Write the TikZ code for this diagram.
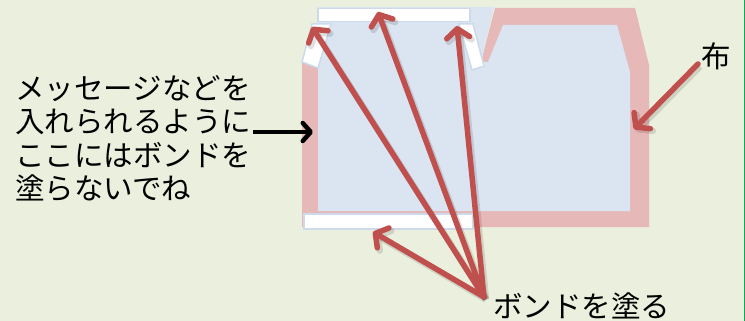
\documentclass[tikz,border=0pt]{standalone}
\usepackage{fontspec}
\newfontfamily\jp{Noto Sans CJK JP}
\usetikzlibrary{arrows.meta}
\definecolor{bgc}{HTML}{EBF0DE}
\definecolor{panelblue}{HTML}{DBE5F1}
\definecolor{edgeblue}{HTML}{CCDAEC}
\definecolor{fabric}{HTML}{E6B9B8}
\definecolor{bondred}{HTML}{C0504D}
\definecolor{framegreen}{HTML}{00B050}
\tikzset{
  jptext/.style={font=\jp\fontsize{29.5pt}{33.5pt}\selectfont, inner sep=0pt, text=black},
  bondstrip/.style={fill=white, draw=edgeblue, line width=1.5pt},
  redarrow/.style={draw=bondred, line width=5.5pt, line cap=round,
    -{Straight Barb[round,length=9pt,width=23pt]},
    preaction={draw=black, draw opacity=0.12, line width=6.5pt,
      transform canvas={shift={(2pt,-2.5pt)}}}},
  blackarrow/.style={draw=black, line width=4.5pt,
    -{Straight Barb[round,length=8pt,width=18pt]}}
}
\begin{document}
\begin{tikzpicture}[x=1pt, y=-1pt]
\useasboundingbox (0,0) rectangle (745,321);
\fill[bgc] (0,0) rectangle (745,321);
\draw[framegreen, line width=1pt] (744.5,0) -- (744.5,321);
% fabric outline
\fill[fabric] (302,62) -- (302,227) -- (649,227) -- (649,65) -- (635,8) -- (495,8) -- (481,62) -- cycle;
% panels
\fill[panelblue] (317,7) -- (494,7) -- (481,62) -- (488,62) -- (503,25) -- (617,25) -- (630,72) -- (630,211) -- (318,211) -- (318,62) -- (317,62) -- cycle;
% bond strips (white)
\draw[bondstrip] (318,8.5) rectangle (470,21.5);
\draw[bondstrip] (312,24) -- (331,24) -- (318,68) -- (302,62) -- cycle;
\draw[bondstrip] (459,24) -- (473,24) -- (484,66) -- (472,70) -- cycle;
\draw[bondstrip] (304,214) rectangle (473,229);
% texts
\node[jptext, anchor=base west, align=left] (msg) at (15,199.5)
  {メッセージなどを\\入れられるように\\ここにはボンドを\\塗らないでね};
\node[jptext, anchor=base west] (bond) at (493,317) {ボンドを塗る};
\node[jptext, anchor=base west] (cloth) at (701,67) {布};
% connector ends
\coordinate (src) at (484,297);
\coordinate (tA) at (312,27);
\coordinate (tB) at (378,12);
\coordinate (tC) at (457,26);
\coordinate (tD) at (373,232);
\coordinate (clothfrom) at (698,64);
\coordinate (clothto) at (634,129);
\coordinate (msgfrom) at (253,132);
\coordinate (msgto) at (313,132);
\draw[redarrow] (src) -- (tA);
\draw[redarrow] (src) -- (tB);
\draw[redarrow] (src) -- (tC);
\draw[redarrow] (src) -- (tD);
\draw[redarrow] (clothfrom) -- (clothto);
\draw[blackarrow] (msgfrom) -- (msgto);
\end{tikzpicture}
\end{document}
